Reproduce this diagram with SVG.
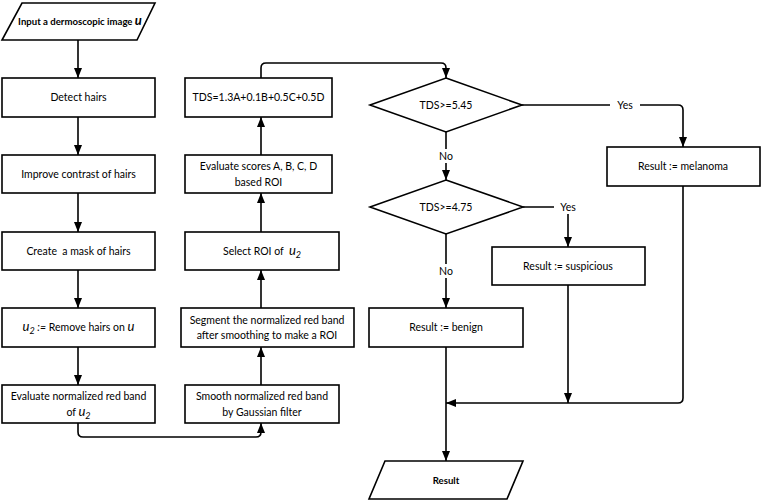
<svg xmlns="http://www.w3.org/2000/svg" width="762" height="502" viewBox="0 0 762 502">
<defs>
<marker id="ah" viewBox="0 0 10 8" refX="10" refY="4" markerWidth="10" markerHeight="8" markerUnits="userSpaceOnUse" orient="auto"><path d="M0,0 L10,4 L0,8 z" fill="#000"/></marker>
<style>
.box{fill:#fff;stroke:#000;stroke-width:1.6}
.t{font-family:Lato,"Open Sans",sans-serif;font-size:10.5px;fill:#000;text-anchor:middle}
.b{font-weight:bold;font-size:9.6px}
.it{font-style:italic;font-size:13px}
.sub{font-style:italic;font-size:9px}
.c{fill:none;stroke:#000;stroke-width:1.6;marker-end:url(#ah)}
.lbl{fill:#fff}
</style>
</defs>
<g id="connectors">
<path class="c" d="M78,40 V78"/>
<path class="c" d="M78,117 V155"/>
<path class="c" d="M78,193 V232"/>
<path class="c" d="M78,270 V308"/>
<path class="c" d="M78,347 V385"/>
<path class="c" d="M78,423 V432 Q78,437 83,437 H256 Q261,437 261,432 V423"/>
<path class="c" d="M261,385 V347"/>
<path class="c" d="M261,308 V270"/>
<path class="c" d="M261,232 V193"/>
<path class="c" d="M261,155 V117"/>
<path class="c" d="M261,78 V68 Q261,63 266,63 H441 Q446,63 446,68 V78"/>
<path class="c" d="M446,132 V180"/>
<path class="c" d="M522,105 H678 Q683,105 683,110 V147"/>
<path class="c" d="M523,207 H568 V247"/>
<path class="c" d="M446,234 V308"/>
<path class="c" d="M568,285 V403"/>
<path class="c" d="M683,186 V398 Q683,403 678,403 H446"/>
<path class="c" d="M446,347 V461"/>
<rect class="lbl" x="434" y="149" width="24" height="14"/>
<text class="t" x="446" y="160">No</text>
<rect class="lbl" x="433" y="264" width="26" height="14"/>
<text class="t" x="446" y="275">No</text>
<rect class="lbl" x="610" y="98" width="30" height="14"/>
<text class="t" x="625" y="109">Yes</text>
<rect class="lbl" x="554" y="200" width="28" height="14"/>
<text class="t" x="568" y="211">Yes</text>
</g>
<g id="input">
<polygon class="box" points="22,3 155,3 137,40 2,40"/>
<text class="t b" x="80" y="25">Input a dermoscopic image <tspan class="it">u</tspan></text>
</g>
<g id="detect">
<rect class="box" x="2" y="78" width="153" height="39"/>
<text class="t" x="78.5" y="101">Detect hairs</text>
</g>
<g id="contrast">
<rect class="box" x="2" y="155" width="153" height="38"/>
<text class="t" x="78.5" y="178">Improve contrast of hairs</text>
</g>
<g id="mask">
<rect class="box" x="2" y="232" width="153" height="38"/>
<text class="t" x="78.5" y="255" xml:space="preserve">Create  a mask of hairs</text>
</g>
<g id="remove">
<rect class="box" x="2" y="308" width="153" height="39"/>
<text class="t" x="78.5" y="331" xml:space="preserve"><tspan class="it">u</tspan><tspan class="sub" dy="3">2</tspan><tspan dy="-3"> </tspan><tspan font-style="italic">:=</tspan> Remove hairs on <tspan class="it">u</tspan></text>
</g>
<g id="evalred">
<rect class="box" x="2" y="385" width="153" height="38"/>
<text class="t" x="78.5" y="400">Evaluate normalized red band</text>
<text class="t" x="78.5" y="416">of <tspan class="it">u</tspan><tspan class="sub" dy="3">2</tspan></text>
</g>
<g id="smooth">
<rect class="box" x="185" y="385" width="154" height="38"/>
<text class="t" x="262" y="400">Smooth normalized red band</text>
<text class="t" x="262" y="416">by Gaussian filter</text>
</g>
<g id="segment">
<rect class="box" x="181" y="308" width="173" height="39"/>
<text class="t" x="267" y="324">Segment the normalized red band</text>
<text class="t" x="267" y="339">after smoothing to make a ROI</text>
</g>
<g id="selectroi">
<rect class="box" x="185" y="232" width="154" height="38"/>
<text class="t" x="262" y="255" xml:space="preserve">Select ROI of  <tspan class="it">u</tspan><tspan class="sub" dy="3">2</tspan></text>
</g>
<g id="scores">
<rect class="box" x="185" y="155" width="147" height="38"/>
<text class="t" x="258.5" y="170">Evaluate scores A, B, C, D</text>
<text class="t" x="258.5" y="186">based ROI</text>
</g>
<g id="tds">
<rect class="box" x="185" y="78" width="147" height="39"/>
<text class="t" x="258.5" y="101">TDS=1.3A+0.1B+0.5C+0.5D</text>
</g>
<g id="d1">
<polygon class="box" points="446,78 522,105 446,132 370,105"/>
<text class="t" x="446" y="109">TDS&gt;=5.45</text>
</g>
<g id="d2">
<polygon class="box" points="446,180 523,207 446,234 370,207"/>
<text class="t" x="446" y="211">TDS&gt;=4.75</text>
</g>
<g id="melanoma">
<rect class="box" x="607" y="147" width="153" height="39"/>
<text class="t" x="683" y="170">Result := melanoma</text>
</g>
<g id="suspicious">
<rect class="box" x="492" y="247" width="153" height="38"/>
<text class="t" x="568" y="270">Result := suspicious</text>
</g>
<g id="benign">
<rect class="box" x="369" y="308" width="154" height="39"/>
<text class="t" x="446" y="331">Result := benign</text>
</g>
<g id="result">
<polygon class="box" points="385,461 523,461 507,499 369,499"/>
<text class="t b" x="446" y="484">Result</text>
</g>
</svg>
